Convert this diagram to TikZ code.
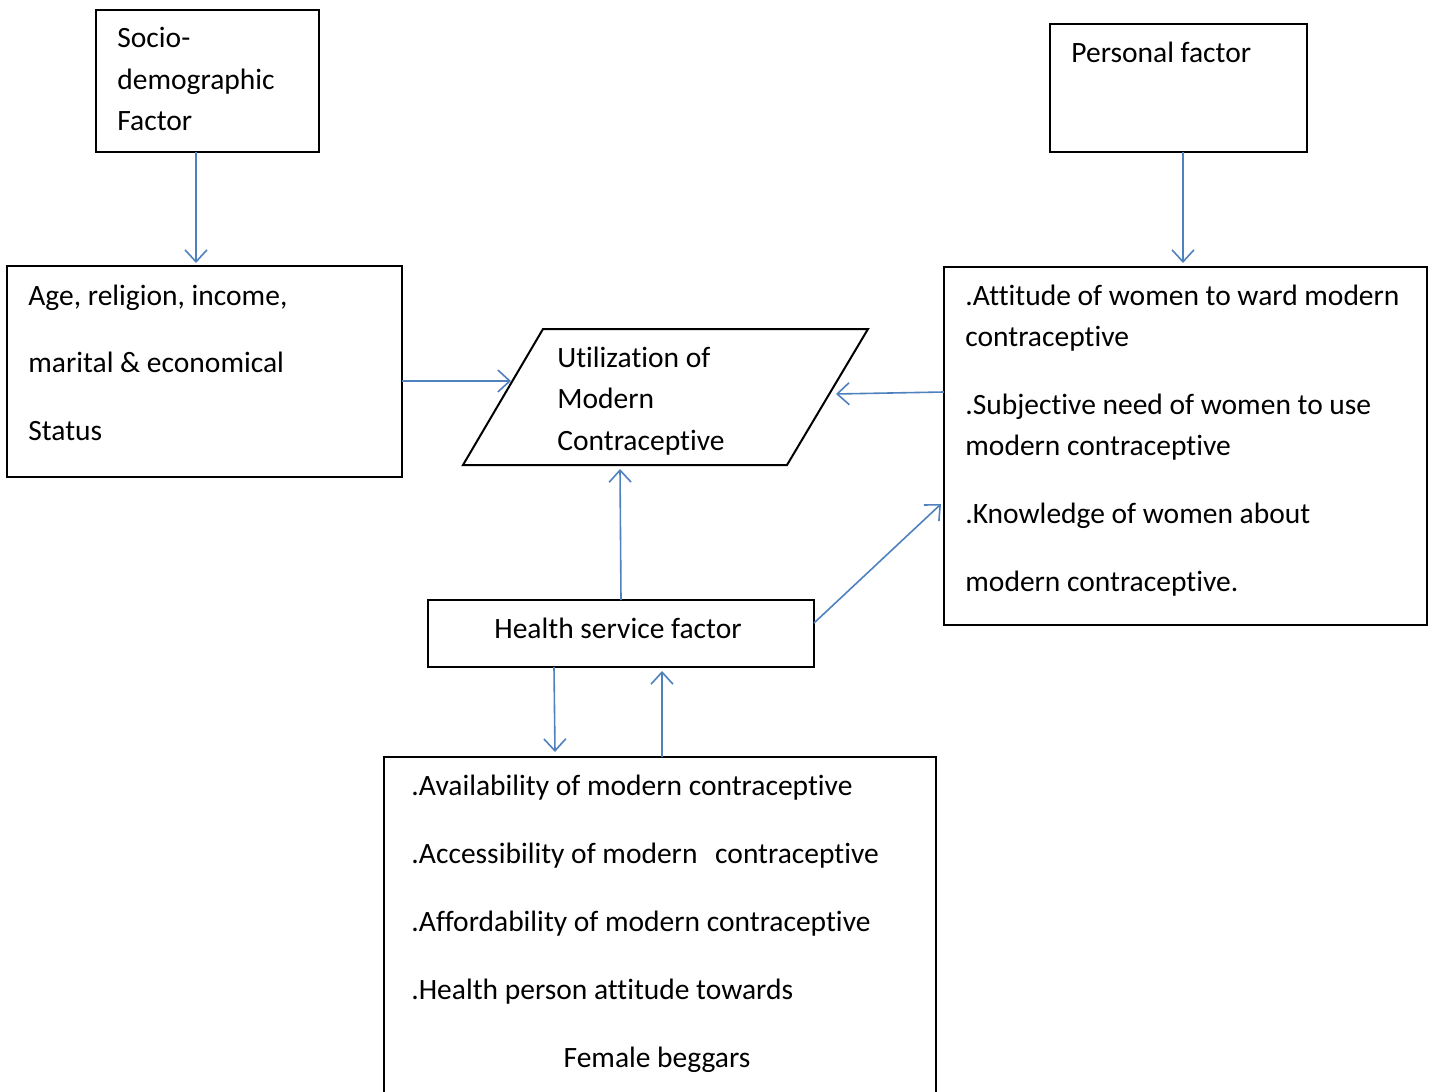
\documentclass[tikz,border=0pt]{standalone}
\usepackage{fontspec}
\setmainfont[RawFeature={-liga}]{Carlito}
\usetikzlibrary{arrows.meta}
\definecolor{blueline}{HTML}{4F81BD}
\begin{document}
\begin{tikzpicture}[x=0.5pt,y=-0.5pt,
  box/.style={draw=black,line width=1pt,inner sep=0pt,outer sep=0pt,anchor=north west},
  txt/.style={anchor=base west,inner sep=0pt,font=\fontsize{14.75}{17}\selectfont},
  ctxt/.style={anchor=base,inner sep=0pt,font=\fontsize{14.75}{17}\selectfont},
  arr/.style={draw=blueline,line width=0.8pt,-{Straight Barb[length=6pt,width=11pt,line width=0.8pt]}}]
\useasboundingbox (0,0) rectangle (1431,1092);
% boxes
\node[box,minimum width=111.5pt,minimum height=71pt] (socio) at (96,10) {};
\node[box,minimum width=128.5pt,minimum height=64pt] (personal) at (1050,24) {};
\node[box,minimum width=197.5pt,minimum height=105.5pt] (age) at (7,266) {};
\node[box,minimum width=241.5pt,minimum height=179pt] (right) at (944,267) {};
\node[box,minimum width=193pt,minimum height=33.5pt] (health) at (428,600) {};
\node[box,draw=none,minimum width=276pt,minimum height=170pt] (bottom) at (384,757) {};
\draw[line width=1pt] (bottom.south west) |- (bottom.north east) -- (bottom.south east);
% parallelogram
\coordinate (ptl) at (543,329);
\coordinate (ptr) at (868,329);
\coordinate (pbr) at (787,465);
\coordinate (pbl) at (463,465);
\draw[line width=1pt] (ptl) -- (ptr) -- (pbr) -- (pbl) -- cycle;
% texts
\node[txt] (t1) at (117,47) {Socio-};
\node[txt] (t2) at (117,89) {demographic};
\node[txt] (t3) at (117,130) {Factor};
\node[txt] (t4) at (1071,62) {Personal factor};
\node[txt] (t5) at (28,305) {Age, religion, income,};
\node[txt] (t6) at (28,372) {marital \& economical};
\node[txt] (t7) at (28,440) {Status};
\node[txt] (t8) at (557,367) {Utilization of};
\node[txt] (t9) at (557,408) {Modern};
\node[txt] (t10) at (557,450) {Contraceptive};
\node[txt] (t11) at (965,305) {.Attitude of women to ward modern};
\node[txt] (t12) at (965,346) {contraceptive};
\node[txt] (t13) at (965,414) {.Subjective need of women to use};
\node[txt] (t14) at (965,455) {modern contraceptive};
\node[txt] (t15) at (965,523) {.Knowledge of women about};
\node[txt] (t16) at (965,591) {modern contraceptive.};
\node[ctxt] (t17) at (618,638) {Health service factor};
\node[txt] (t18) at (411,795) {.Availability of modern contraceptive};
\node[txt] (t19) at (411,863) {.Accessibility of modern\hspace{0.6em}contraceptive};
\node[txt] (t20) at (411,931) {.Affordability of modern contraceptive};
\node[txt] (t21) at (411,999) {.Health person attitude towards};
\node[ctxt] (t22) at (657,1067) {Female beggars};
% arrow end points
\coordinate (a1s) at (196,152); \coordinate (a1e) at (196,263);
\coordinate (a2s) at (1183,152); \coordinate (a2e) at (1183,263);
\coordinate (a3s) at (402,381); \coordinate (a3e) at (511,381);
\coordinate (a4s) at (944,392); \coordinate (a4e) at (836,394);
\coordinate (a5s) at (621,600); \coordinate (a5e) at (620,469);
\coordinate (a6s) at (814,623); \coordinate (a6e) at (941,504);
\coordinate (a7s) at (554,667); \coordinate (a7e) at (555,752);
\coordinate (a8s) at (662,757); \coordinate (a8e) at (662,671);
\draw[arr] (a1s) -- (a1e);
\draw[arr] (a2s) -- (a2e);
\draw[arr] (a3s) -- (a3e);
\draw[arr] (a4s) -- (a4e);
\draw[arr] (a5s) -- (a5e);
\draw[arr] (a6s) -- (a6e);
\draw[arr] (a7s) -- (a7e);
\draw[arr] (a8s) -- (a8e);
\end{tikzpicture}
\end{document}
